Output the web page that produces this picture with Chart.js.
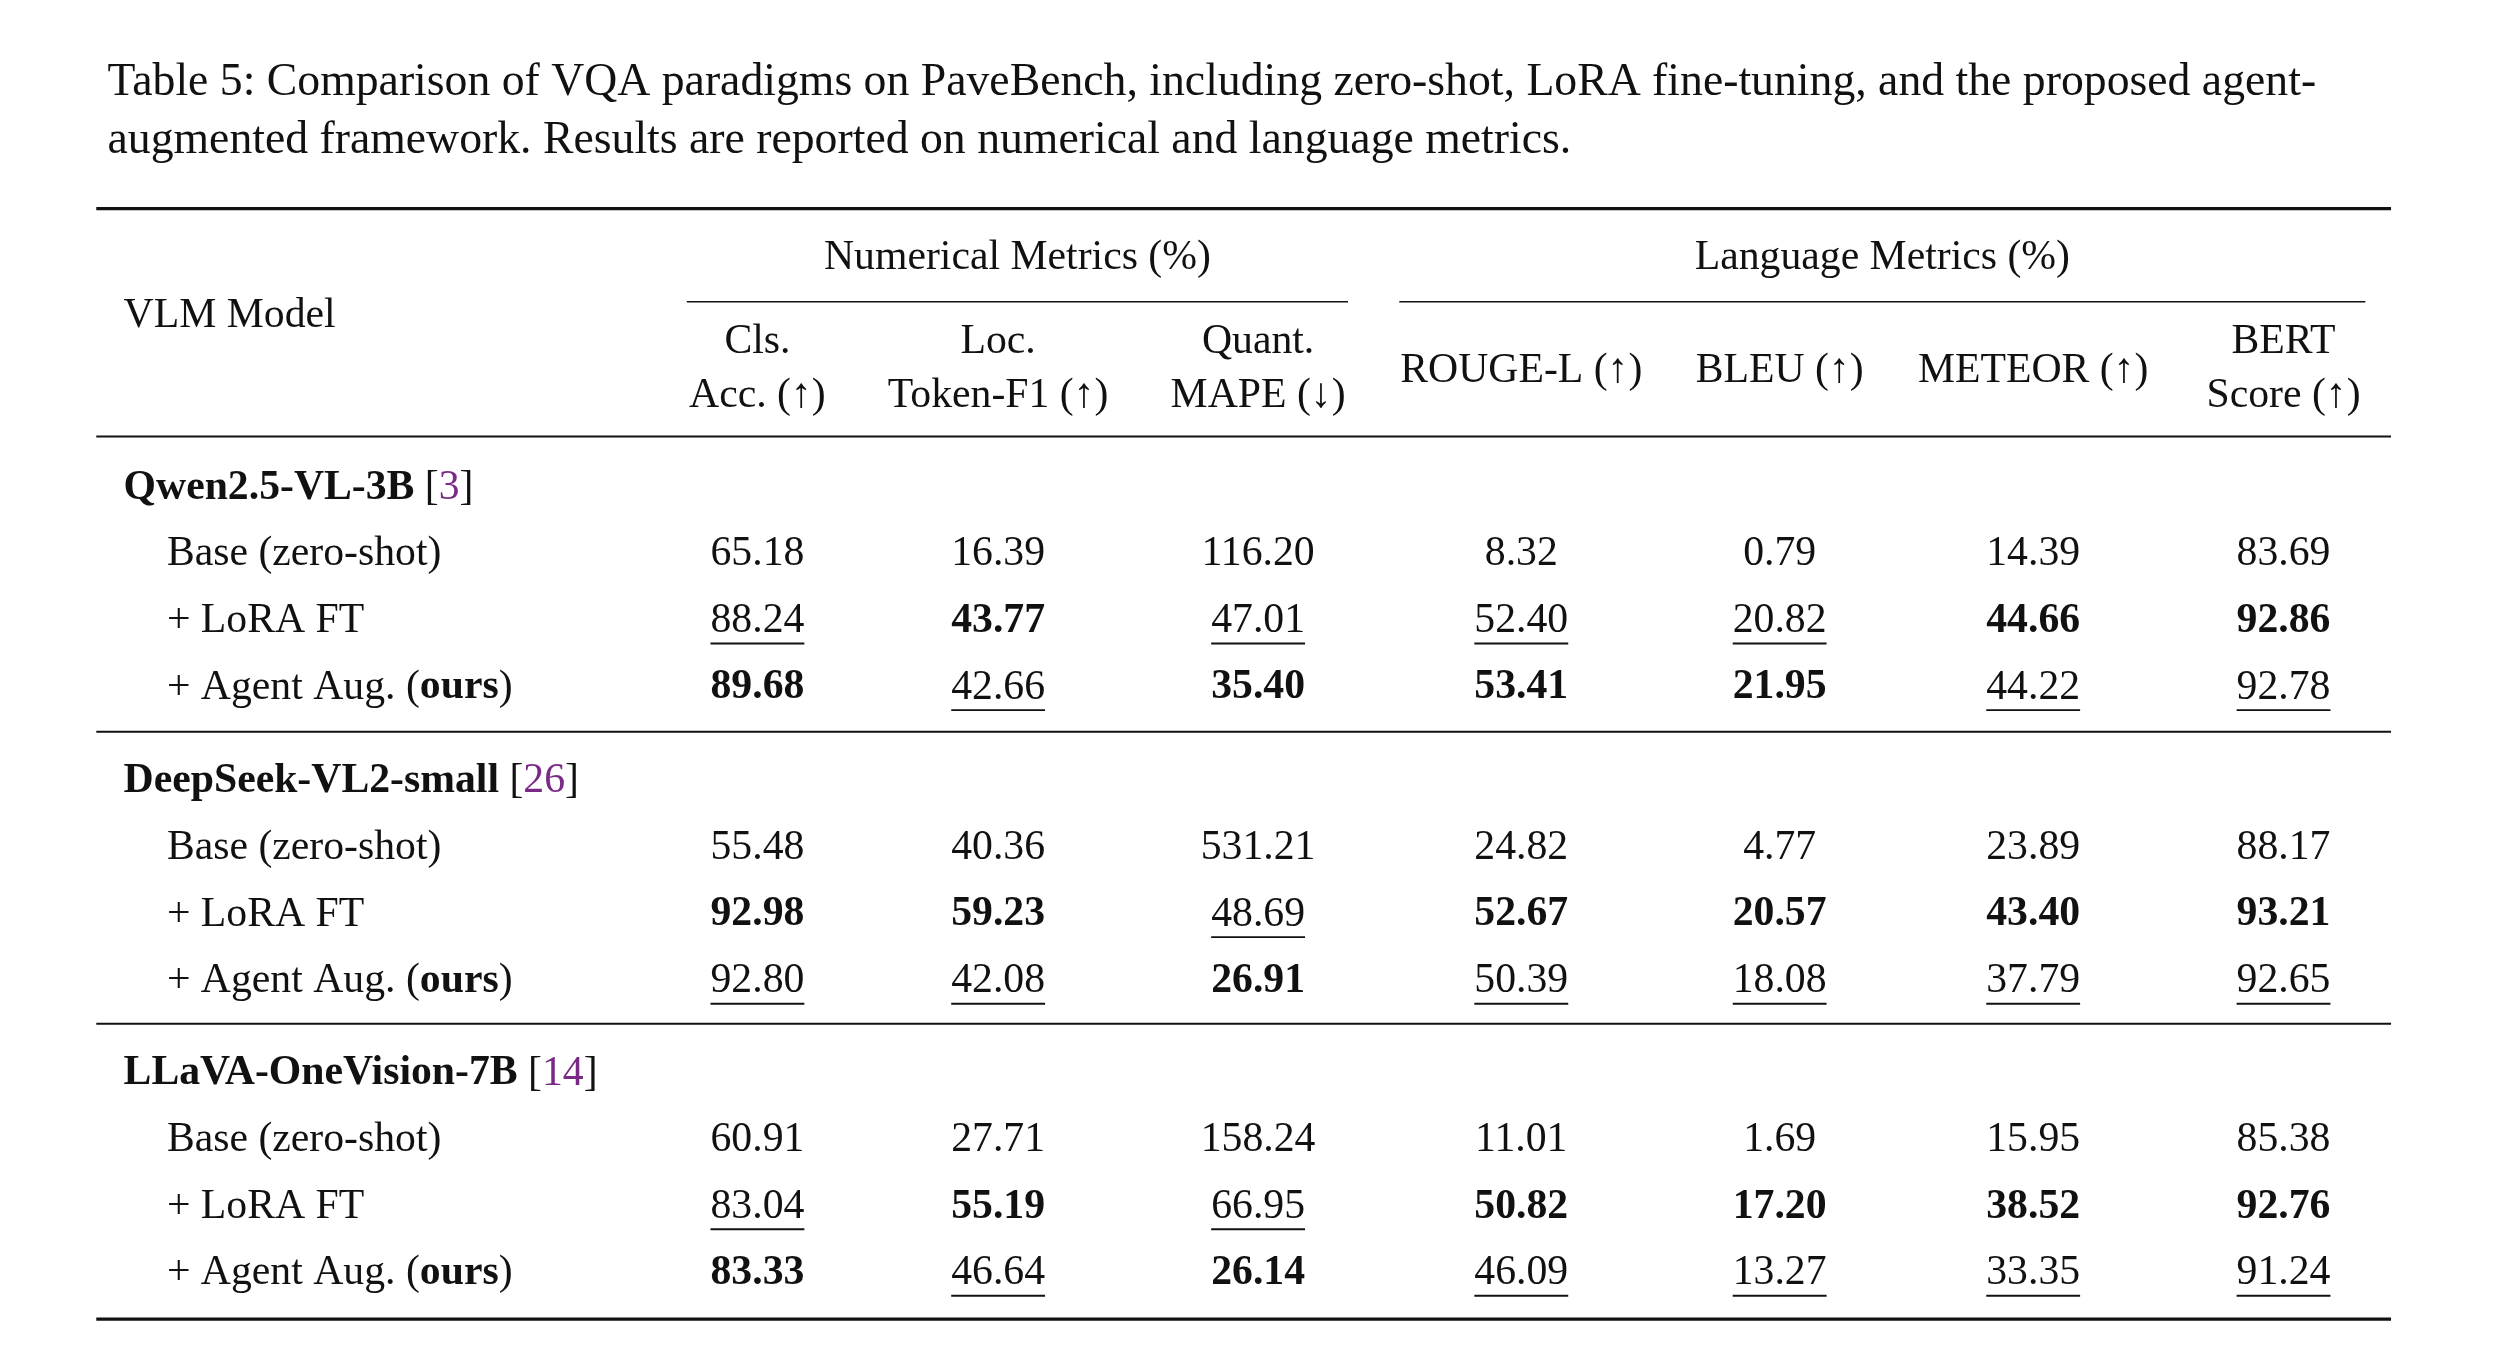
<!DOCTYPE html>
<html>
<head>
<meta charset="utf-8">
<script src="https://cdn.jsdelivr.net/npm/chart.js@4.4.1/dist/chart.umd.min.js"></script>
<style>
  html, body { margin: 0; padding: 0; background: #fff; }
  canvas { display: block; }
</style>
</head>
<body>
<canvas id="tbl" width="2513" height="1370"></canvas>
<script>
// table content
const captionLines = [
  "Table 5: Comparison of VQA paradigms on PaveBench, including zero-shot, LoRA fine-tuning, and the proposed agent-",
  "augmented framework. Results are reported on numerical and language metrics."
];
const metricHeaders = [
  ["Cls.", "Acc. (\u2191)"],
  ["Loc.", "Token-F1 (\u2191)"],
  ["Quant.", "MAPE (\u2193)"],
  ["ROUGE-L (\u2191)"],
  ["BLEU (\u2191)"],
  ["METEOR (\u2191)"],
  ["BERT", "Score (\u2191)"]
];
const models = ["Qwen2.5-VL-3B", "DeepSeek-VL2-small", "LLaVA-OneVision-7B"];
const modelCites = ["3", "26", "14"];
const methods = ["Base (zero-shot)", "+ LoRA FT", "+ Agent Aug."];

const qwenValues = [
  [65.18, 16.39, 116.20, 8.32, 0.79, 14.39, 83.69],
  [88.24, 43.77, 47.01, 52.40, 20.82, 44.66, 92.86],
  [89.68, 42.66, 35.40, 53.41, 21.95, 44.22, 92.78]
];
const deepseekValues = [
  [55.48, 40.36, 531.21, 24.82, 4.77, 23.89, 88.17],
  [92.98, 59.23, 48.69, 52.67, 20.57, 43.40, 93.21],
  [92.80, 42.08, 26.91, 50.39, 18.08, 37.79, 92.65]
];
const llavaValues = [
  [60.91, 27.71, 158.24, 11.01, 1.69, 15.95, 85.38],
  [83.04, 55.19, 66.95, 50.82, 17.20, 38.52, 92.76],
  [83.33, 46.64, 26.14, 46.09, 13.27, 33.35, 91.24]
];
const allValues = [qwenValues, deepseekValues, llavaValues];
// MAPE is lower-is-better
const lowerBetter = [false, false, true, false, false, false, false];

// layout in reference units, scaled by the axes
const colX = [472, 622, 784, 948, 1109, 1267, 1423];
const groupRowY = [304, 487, 669];
const rowStep = 41.5;

function rank(vals, c) {
  const col = vals.map(r => r[c]);
  const sorted = [...col].sort((a, b) => lowerBetter[c] ? a - b : b - a);
  return col.map(v => v === sorted[0] ? "b" : v === sorted[1] ? "u" : "");
}

const W = 1566;
const S = 2513 / W;
const SERIF = '"Liberation Serif", "DejaVu Serif", serif';

const tablePlugin = {
  id: "tablePlugin",
  afterDraw(chart) {
    const ctx = chart.ctx;
    const X = v => chart.scales.x.getPixelForValue(v);
    const Y = v => chart.scales.y.getPixelForValue(v);
    const font = (w, sz) => `${w} ${sz * S}px ${SERIF}`;
    ctx.save();
    ctx.fillStyle = "#111";
    ctx.strokeStyle = "#111";
    ctx.textBaseline = "middle";

    // caption
    ctx.font = font("normal", 28.5);
    ctx.textAlign = "left";
    ctx.fillText(captionLines[0], X(67), Y(52));
    ctx.fillText(captionLines[1], X(67), Y(88));

    const rule = (x1, x2, y, w) => {
      ctx.lineWidth = w * S;
      ctx.beginPath();
      ctx.moveTo(X(x1), Y(y));
      ctx.lineTo(X(x2), Y(y));
      ctx.stroke();
    };
    rule(60, 1490, 130, 2);
    rule(428, 840, 188, 1);
    rule(872, 1474, 188, 1);
    rule(60, 1490, 272, 1.3);
    rule(60, 1490, 456, 1.3);
    rule(60, 1490, 638, 1.3);
    rule(60, 1490, 822, 2);

    const FS = 26;
    // headers
    ctx.font = font("normal", FS);
    ctx.textAlign = "left";
    ctx.fillText("VLM Model", X(77), Y(197));
    ctx.textAlign = "center";
    ctx.fillText("Numerical Metrics (%)", X(634), Y(161));
    ctx.fillText("Language Metrics (%)", X(1173), Y(161));
    metricHeaders.forEach((h, i) => {
      if (h.length === 2) {
        ctx.fillText(h[0], X(colX[i]), Y(213));
        ctx.fillText(h[1], X(colX[i]), Y(247));
      } else {
        ctx.fillText(h[0], X(colX[i]), Y(231));
      }
    });

    // body
    models.forEach((m, g) => {
      const gy = groupRowY[g];
      ctx.textAlign = "left";
      ctx.font = font("bold", FS);
      let x = X(77);
      ctx.fillText(m, x, Y(gy));
      x += ctx.measureText(m + " ").width;
      ctx.font = font("normal", FS);
      ctx.fillText("[", x, Y(gy)); x += ctx.measureText("[").width;
      ctx.fillStyle = "#7a2a86";
      ctx.fillText(modelCites[g], x, Y(gy)); x += ctx.measureText(modelCites[g]).width;
      ctx.fillStyle = "#111";
      ctx.fillText("]", x, Y(gy));

      const vals = allValues[g];
      const marks = colX.map((_, c) => rank(vals, c));
      methods.forEach((label, r) => {
        const ry = gy + rowStep * (r + 1);
        ctx.textAlign = "left";
        ctx.font = font("normal", FS);
        ctx.fillText(label, X(104), Y(ry));
        if (r === 2) {
          let lx = X(104) + ctx.measureText(label + " (").width;
          ctx.fillText("(", lx - ctx.measureText("(").width, Y(ry));
          ctx.font = font("bold", FS);
          ctx.fillText("ours", lx, Y(ry));
          lx += ctx.measureText("ours").width;
          ctx.font = font("normal", FS);
          ctx.fillText(")", lx, Y(ry));
        }
        ctx.textAlign = "center";
        vals[r].forEach((v, c) => {
          const mk = marks[c][r];
          ctx.font = font(mk === "b" ? "bold" : "normal", FS);
          const t = v.toFixed(2);
          ctx.fillText(t, X(colX[c]), Y(ry));
          if (mk === "u") {
            const w = ctx.measureText(t).width;
            ctx.lineWidth = 1.2 * S;
            ctx.beginPath();
            ctx.moveTo(X(colX[c]) - w / 2, Y(ry + 14));
            ctx.lineTo(X(colX[c]) + w / 2, Y(ry + 14));
            ctx.stroke();
          }
        });
      });
    });
    ctx.restore();
  }
};

new Chart(document.getElementById("tbl"), {
  type: "scatter",
  data: { datasets: [{ data: [] }] },
  options: {
    responsive: false,
    animation: false,
    devicePixelRatio: 1,
    layout: { padding: 0 },
    plugins: { legend: { display: false }, tooltip: { enabled: false } },
    scales: {
      x: { type: "linear", min: 0, max: W, display: false },
      y: { type: "linear", min: 0, max: 1370 / S, reverse: true, display: false }
    }
  },
  plugins: [tablePlugin]
});
</script>
</body>
</html>
